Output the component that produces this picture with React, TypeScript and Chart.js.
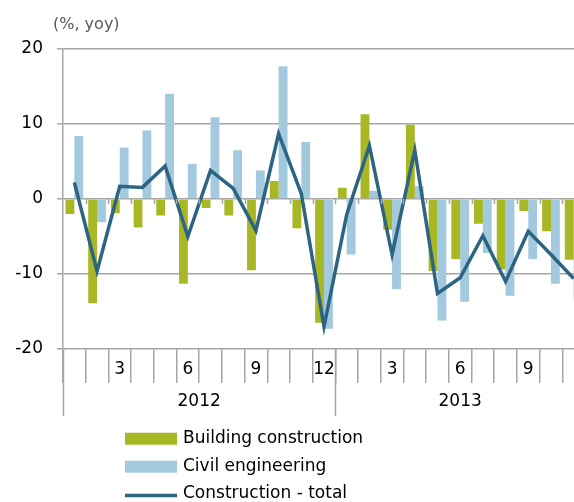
import React, { useEffect, useRef } from "react";
import { Chart, registerables } from "chart.js";

Chart.register(...registerables);

const monthLabels = ["1","2","3","4","5","6","7","8","9","10","11","12","1","2","3","4","5","6","7","8","9","10","11"];
const years = ["2012", "2013"];
const yearCounts = [12, 11];

const building = [-2.0, -13.9, -1.9, -3.8, -2.2, -11.3, -1.2, -2.2, -9.5, 2.4, -3.9, -16.5, 1.5, 11.3, -4.1, 9.9, -9.6, -8.0, -3.3, -9.4, -1.6, -4.3, -8.1];
const civil = [8.4, -3.1, 6.85, 9.15, 14.05, 4.7, 10.9, 6.5, 3.8, 17.7, 7.6, -17.3, -7.4, 1.1, -12.0, 1.7, -16.2, -13.7, -7.2, -12.9, -8.0, -11.3, -13.5];
const total = [2.2, -9.6, 1.7, 1.55, 4.4, -5.0, 3.8, 1.4, -4.2, 8.7, 0.7, -17.0, -2.1, 7.1, -7.4, 6.5, -12.6, -10.5, -4.9, -11.0, -4.3, -7.4, -10.6];

const yTicks = [-20, -10, 0, 10, 20];

const FONT = "'DejaVu Sans', sans-serif";
const GRID = "#A6A6A6";
const GREEN = "#A8B824";
const BLUE = "#A3C9DE";
const DARK = "#2D6482";

const decorPlugin = {
  id: "decor",
  afterDraw(chart: any) {
    const ctx = chart.ctx;
    const x = chart.scales.x;
    const y = chart.scales.y;
    const area = chart.chartArea;
    const step = x.getPixelForValue(1) - x.getPixelForValue(0);
    const boundary = (i: number) => x.getPixelForValue(i) - step / 2;

    ctx.save();
    // title
    ctx.font = `16px ${FONT}`;
    ctx.fillStyle = "#595959";
    ctx.textAlign = "left";
    ctx.textBaseline = "middle";
    ctx.fillText("(%, yoy)", 53, 25);

    // small ticks on zero line
    const y0 = y.getPixelForValue(0);
    ctx.strokeStyle = GRID;
    ctx.lineWidth = 1.5;
    for (let i = 1; i < monthLabels.length; i++) {
      const bx = Math.round(boundary(i)) + 0.5;
      ctx.beginPath();
      ctx.moveTo(bx, y0);
      ctx.lineTo(bx, y0 + 5);
      ctx.stroke();
    }

    // year separators & labels
    const yearBottom = area.bottom + 67;
    let start = 0;
    ctx.font = `17px ${FONT}`;
    ctx.fillStyle = "#000";
    ctx.textAlign = "center";
    years.forEach((yr, k) => {
      const left = boundary(start);
      const right = boundary(start + yearCounts[k]);
      ctx.beginPath();
      ctx.moveTo(Math.round(left) + 0.5, area.bottom);
      ctx.lineTo(Math.round(left) + 0.5, yearBottom);
      ctx.stroke();
      ctx.fillText(yr, (left + right) / 2, area.bottom + 53);
      start += yearCounts[k];
    });

    // legend
    const items = chart.data.datasets.map((d: any) => d);
    const rows = [438.7, 466.7, 494];
    const order = [1, 2, 0];
    ctx.textAlign = "left";
    ctx.font = `17px ${FONT}`;
    order.forEach((di, r) => {
      const ds = items[di];
      const cy = rows[r];
      if (ds.type === "line") {
        ctx.strokeStyle = ds.borderColor;
        ctx.lineWidth = 3.5;
        ctx.beginPath();
        ctx.moveTo(125, cy + 1.5);
        ctx.lineTo(177, cy + 1.5);
        ctx.stroke();
      } else {
        ctx.fillStyle = ds.backgroundColor;
        ctx.fillRect(125, cy - 6, 52, 12);
      }
      ctx.fillStyle = "#000";
      ctx.fillText(ds.label, 183, cy);
    });
    ctx.restore();
  },
};

export default function App() {
  const ref = useRef<HTMLCanvasElement | null>(null);
  useEffect(() => {
    if (!ref.current) return;
    const chart = new Chart(ref.current, {
      type: "bar",
      data: {
        labels: monthLabels,
        datasets: [
          {
            type: "line",
            label: "Construction - total",
            data: total,
            borderColor: DARK,
            backgroundColor: DARK,
            borderWidth: 3.5,
            pointRadius: 0,
            tension: 0,
            fill: false,
            order: 0,
          } as any,
          {
            type: "bar",
            label: "Building construction",
            data: building,
            backgroundColor: GREEN,
            borderWidth: 0,
            categoryPercentage: 0.78,
            barPercentage: 1.0,
            order: 1,
          },
          {
            type: "bar",
            label: "Civil engineering",
            data: civil,
            backgroundColor: BLUE,
            borderWidth: 0,
            categoryPercentage: 0.78,
            barPercentage: 1.0,
            order: 2,
          },
        ],
      },
      options: {
        responsive: false,
        animation: false,
        devicePixelRatio: 1,
        layout: { padding: { top: 49, right: 35, bottom: 86, left: 0 } },
        plugins: {
          legend: { display: false },
          tooltip: { enabled: false },
        },
        scales: {
          x: {
            type: "category",
            offset: true,
            afterFit: (s: any) => {
              s.height = 67;
            },
            grid: {
              offset: true,
              drawOnChartArea: false,
              drawTicks: true,
              tickLength: 34,
              color: GRID,
              lineWidth: 1.5,
            },
            border: { display: false },
            ticks: {
              autoSkip: false,
              maxRotation: 0,
              minRotation: 0,
              padding: -24,
              color: "#000",
              font: { family: FONT, size: 17 },
              callback: (_v: any, i: number) =>
                Number(monthLabels[i]) % 3 === 0 ? monthLabels[i] : "",
            },
          },
          y: {
            min: yTicks[0],
            max: yTicks[yTicks.length - 1],
            afterFit: (s: any) => {
              s.width = 63;
            },
            afterBuildTicks: (s: any) => {
              s.ticks = yTicks.map((v) => ({ value: v }));
            },
            grid: {
              color: GRID,
              lineWidth: 1.5,
              drawTicks: true,
              tickLength: 6,
            },
            border: { display: true, color: GRID, width: 1.5 },
            ticks: {
              padding: 14,
              color: "#000",
              font: { family: FONT, size: 17 },
            },
          },
        },
      },
      plugins: [decorPlugin],
    });
    return () => chart.destroy();
  }, []);

  return (
    <div
      style={{
        position: "fixed",
        left: 0,
        top: 0,
        width: 574,
        height: 502,
        overflow: "hidden",
        background: "#fff",
      }}
    >
      <canvas ref={ref} width={620} height={502} style={{ width: 620, height: 502, display: "block" }} />
    </div>
  );
}
